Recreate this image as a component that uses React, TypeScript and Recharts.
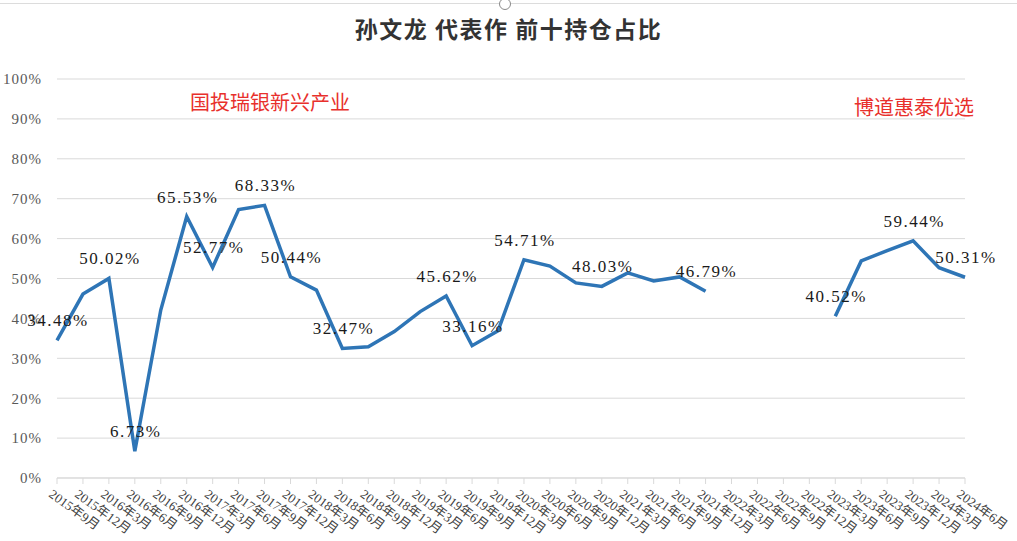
import React from 'react';
import { LineChart, Line, XAxis, YAxis, CartesianGrid, LabelList } from 'recharts';

const categories = [
  '2015年9月', '2015年12月',
  '2016年3月', '2016年6月', '2016年9月', '2016年12月',
  '2017年3月', '2017年6月', '2017年9月', '2017年12月',
  '2018年3月', '2018年6月', '2018年9月', '2018年12月',
  '2019年3月', '2019年6月', '2019年9月', '2019年12月',
  '2020年3月', '2020年6月', '2020年9月', '2020年12月',
  '2021年3月', '2021年6月', '2021年9月', '2021年12月',
  '2022年3月', '2022年6月', '2022年9月', '2022年12月',
  '2023年3月', '2023年6月', '2023年9月', '2023年12月',
  '2024年3月', '2024年6月',
];

// 前十持仓占比 (%), 2022 年空缺
const shares: (number | null)[] = [
  34.48, 46.1,
  50.02, 6.73, 42.1, 65.53,
  52.77, 67.3, 68.33, 50.44,
  47.1, 32.47, 32.9, 36.7,
  41.7, 45.62, 33.16, 36.9,
  54.71, 53.1, 48.9, 48.03,
  51.4, 49.4, 50.4, 46.79,
  null, null, null, null,
  40.52, 54.4, 57.0, 59.44,
  52.7, 50.31,
];

// which points get a data label
const labelledIdx = [0, 2, 3, 5, 6, 8, 9, 11, 15, 16, 18, 21, 25, 30, 33, 35];

const yTicks = [0, 10, 20, 30, 40, 50, 60, 70, 80, 90, 100];

const TITLE = '孙文龙 代表作 前十持仓占比';
const FUND_A = '国投瑞银新兴产业';
const FUND_B = '博道惠泰优选';

const data = categories.map((name, i) => ({
  name,
  value: shares[i],
  label: labelledIdx.includes(i) && shares[i] != null ? `${(shares[i] as number).toFixed(2)}%` : '',
}));

const AXIS_GREY = '#d9d9d9';
const TEXT_GREY = '#595959';
const RED = '#e8302c';

const XTick = (props: any) => {
  const { x, y, payload } = props;
  return (
    <g transform={`translate(${x - 3},${y + 2})`}>
      <text
        transform="rotate(36)"
        x={0}
        y={0}
        dy={10}
        textAnchor="start"
        fontSize={13}
        fill="#404040"
        fontFamily="'Liberation Serif', 'Noto Sans CJK SC', serif"
      >
        {payload.value}
      </text>
    </g>
  );
};

const PointLabel = (props: any) => {
  const { x, y, value } = props;
  if (!value) return null;
  return (
    <text
      x={x + 1}
      y={y - 14}
      textAnchor="middle"
      fontSize={17}
      letterSpacing={1.5}
      fill="#1a1a1a"
      fontFamily="'Liberation Serif', serif"
    >
      {value}
    </text>
  );
};

export default function App() {
  return (
    <div style={{ position: 'absolute', left: 0, top: 0, width: 1017, height: 541, background: '#fff', overflow: 'hidden' }}>
      <div style={{ position: 'absolute', left: 0, right: 0, top: 3, height: 1, background: '#dcdcdc' }} />
      <div
        style={{
          position: 'absolute', left: 499, top: -2, width: 10, height: 10,
          borderRadius: '50%', border: '1px solid #8a8a8a', background: '#fff',
        }}
      />
      <div
        style={{
          position: 'absolute', left: 0, width: 1017, top: 12, textAlign: 'center',
          fontFamily: "'Noto Sans CJK SC', sans-serif", fontWeight: 700, fontSize: 23,
          letterSpacing: 1.5, color: '#333', lineHeight: '32px', whiteSpace: 'pre',
        }}
      >
        {TITLE}
      </div>
      <div
        style={{
          position: 'absolute', left: 190, top: 88, fontFamily: "'Noto Sans CJK SC', sans-serif",
          fontSize: 20, color: RED, lineHeight: '28px',
        }}
      >
        {FUND_A}
      </div>
      <div
        style={{
          position: 'absolute', left: 854, top: 93, fontFamily: "'Noto Sans CJK SC', sans-serif",
          fontSize: 20, color: RED, lineHeight: '28px',
        }}
      >
        {FUND_B}
      </div>
      <LineChart
        width={1017}
        height={541}
        data={data}
        margin={{ top: 79, right: 52, left: 0, bottom: 0 }}
      >
        <CartesianGrid vertical={false} stroke={AXIS_GREY} />
        <XAxis
          dataKey="name"
          interval={0}
          height={63}
          tick={<XTick />}
          axisLine={{ stroke: AXIS_GREY }}
          tickLine={{ stroke: AXIS_GREY }}
          tickSize={6}
        />
        <YAxis
          domain={[0, 100]}
          ticks={yTicks}
          width={57}
          axisLine={false}
          tickLine={false}
          tickMargin={9}
          tickFormatter={(v: number) => `${v}%`}
          tick={{ fontSize: 15, fill: TEXT_GREY, fontFamily: "'Liberation Serif', serif", letterSpacing: 1 }}
        />
        <Line
          type="linear"
          dataKey="value"
          stroke="#2e75b6"
          strokeWidth={3.5}
          dot={false}
          activeDot={false}
          connectNulls={false}
          isAnimationActive={false}
        >
          <LabelList dataKey="label" content={<PointLabel />} />
        </Line>
      </LineChart>
    </div>
  );
}
